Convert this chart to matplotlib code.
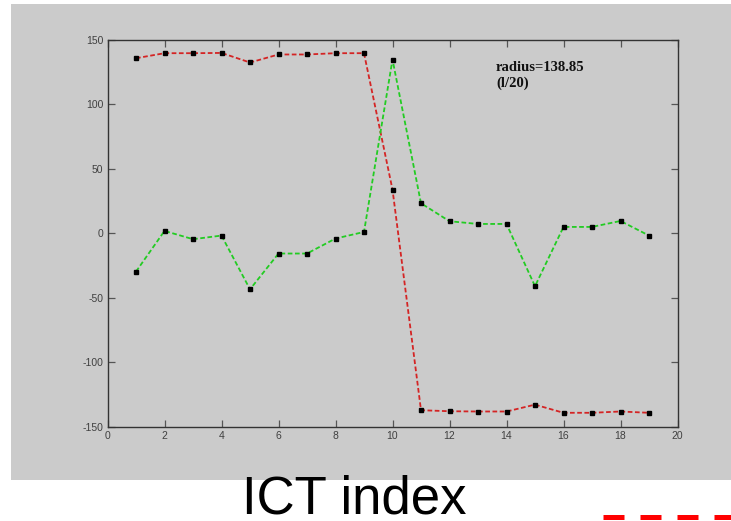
import matplotlib
matplotlib.use("Agg")
import matplotlib.pyplot as plt
from matplotlib.lines import Line2D

plt.rcParams["axes.unicode_minus"] = False

# ICT index and the two projected components
ict_index = list(range(1, 20))
red_values = [135.5, 139.4, 139.4, 139.6, 132.2, 138.4, 138.4, 139.4, 139.4, 33.8,
              -137.0, -137.8, -138.0, -138.0, -132.7, -139.0, -139.0, -138.0, -139.0]
green_values = [-29.7, 1.8, -4.6, -1.8, -43.4, -15.7, -15.7, -4.1, 1.0, 134.5,
                23.2, 9.3, 7.2, 7.2, -41.0, 4.9, 4.9, 9.5, -1.8]
x_ticks = [0, 2, 4, 6, 8, 10, 12, 14, 16, 18, 20]
y_ticks = [-150, -100, -50, 0, 50, 100, 150]
annotation = "radius=138.85\n(l/20)"
x_title = "ICT index"

W, H = 731, 521
fig = plt.figure(figsize=(W / 100, H / 100), dpi=100)
fig.patch.set_facecolor("white")

# grey panel behind the plot
bg = fig.add_axes([11 / W, (H - 480) / H, (W - 11) / W, (480 - 4) / H], zorder=0)
bg.set_axis_off()
bg.add_patch(plt.Rectangle((0, 0), 1, 1, transform=bg.transAxes,
                           facecolor="#cbcbcb", edgecolor="none"))

left, right, top, bottom = 107.5, 677.5, 39.5, 427.0
ax = fig.add_axes([left / W, (H - bottom) / H, (right - left) / W, (bottom - top) / H],
                  zorder=1)
ax.set_facecolor("none")

ax.plot(ict_index, red_values, color="#d42424", lw=1.3, ls=(0, (2.6, 1.4)), zorder=2)
ax.plot(ict_index, green_values, color="#22cc22", lw=1.3, ls=(0, (2.6, 1.4)), zorder=2)
ax.plot(ict_index, red_values, ls="none", marker="s", ms=2.2, color="black", zorder=3)
ax.plot(ict_index, green_values, ls="none", marker="s", ms=2.2, color="black", zorder=3)

ax.set_xlim(0, 20)
ax.set_ylim(-150, 150)
ax.set_xticks(x_ticks)
ax.set_yticks(y_ticks)
ax.tick_params(direction="in", length=5, width=0.9, colors="#555555",
               labelcolor="#404040", labelsize=7.5, top=True, right=True, pad=3)
for lab in ax.get_xticklabels() + ax.get_yticklabels():
    lab.set_family("Liberation Sans")
for s in ax.spines.values():
    s.set_color("#333333")
    s.set_linewidth(1.0)

fig.text(496 / W, (H - 61) / H, annotation,
         family="Liberation Serif", fontweight="bold", fontsize=10.5,
         va="top", ha="left", linespacing=1.2, color="#111111", zorder=5)

fig.text(242 / W, (H - 513) / H, x_title, family="Liberation Sans",
         fontsize=38, ha="left", va="baseline", color="black")

# red dashed strip along the bottom-right edge
fig.lines.append(Line2D([603 / W, 1.0], [(H - 516.5) / H] * 2, transform=fig.transFigure,
                        color="red", lw=3.6, ls=(0, (4.2, 3.2)),
                        dash_capstyle="butt"))

fig.savefig("out.png", dpi=100)
